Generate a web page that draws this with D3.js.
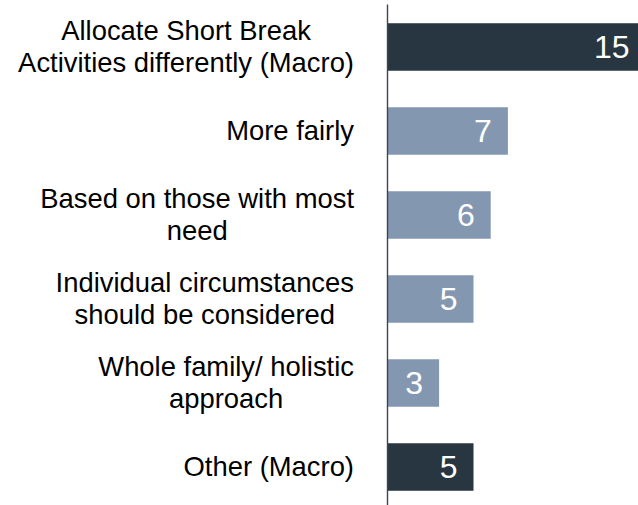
<!DOCTYPE html>
<html><head><meta charset="utf-8">
<script src="https://cdn.jsdelivr.net/npm/d3@7/dist/d3.min.js"></script>
<style>html,body{margin:0;padding:0;background:#fff;overflow:hidden}</style>
</head><body>
<svg id="c" width="638" height="505"></svg>
<script>
const categories = [
  ["Allocate Short Break", "Activities differently (Macro)"],
  ["More fairly"],
  ["Based on those with most", "need"],
  ["Individual circumstances", "should be considered"],
  ["Whole family/ holistic", "approach"],
  ["Other (Macro)"]
];
const values = [15, 7, 6, 5, 3, 5];
const isMacro = [true, false, false, false, false, true];

const W = 638, H = 505;
const svg = d3.select("#c");
const font = "'Liberation Sans', Arial, sans-serif";

const keys = categories.map(c => c.join(" "));
const y = d3.scaleBand().domain(keys).range([4, 510])
  .paddingInner(0.4345).paddingOuter(0.229);
const x = d3.scaleLinear().domain([0, 15]).range([387.5, 645.5]);

// bars
svg.selectAll("rect.bar").data(values).enter().append("rect")
  .attr("class", "bar")
  .attr("x", x(0))
  .attr("y", (d, i) => y(keys[i]))
  .attr("width", d => x(d) - x(0))
  .attr("height", y.bandwidth())
  .attr("fill", (d, i) => isMacro[i] ? "#283641" : "#8497b0");

// value labels
svg.selectAll("text.val").data(values).enter().append("text")
  .attr("class", "val")
  .attr("x", d => x(d) - 16)
  .attr("y", (d, i) => y(keys[i]) + y.bandwidth() / 2 + 11)
  .attr("text-anchor", "end")
  .attr("font-family", font)
  .attr("font-size", "32px")
  .attr("fill", "#ffffff")
  .text(d => d);

// axis
const axis = d3.axisLeft(y).tickSize(0).tickSizeOuter(0).tickFormat("");
const ag = svg.append("g").attr("transform", "translate(387,0)").call(axis);
ag.select(".domain").attr("stroke", "#3b4654").attr("stroke-width", 1.4);

// category labels
const rightEdge = 354;
const lineH = 32;
categories.forEach((lines, i) => {
  const cy = y(keys[i]) + y.bandwidth() / 2;
  const g = svg.append("g");
  const texts = lines.map((l, j) => g.append("text")
    .attr("font-family", font)
    .attr("font-size", "27.4px")
    .attr("fill", "#000")
    .attr("text-anchor", "middle")
    .attr("y", cy + 9 + (j - (lines.length - 1) / 2) * lineH)
    .text(l));
  const maxW = d3.max(texts, t => t.node().getComputedTextLength());
  texts.forEach(t => t.attr("x", rightEdge - maxW / 2));
});
</script>
</body></html>
